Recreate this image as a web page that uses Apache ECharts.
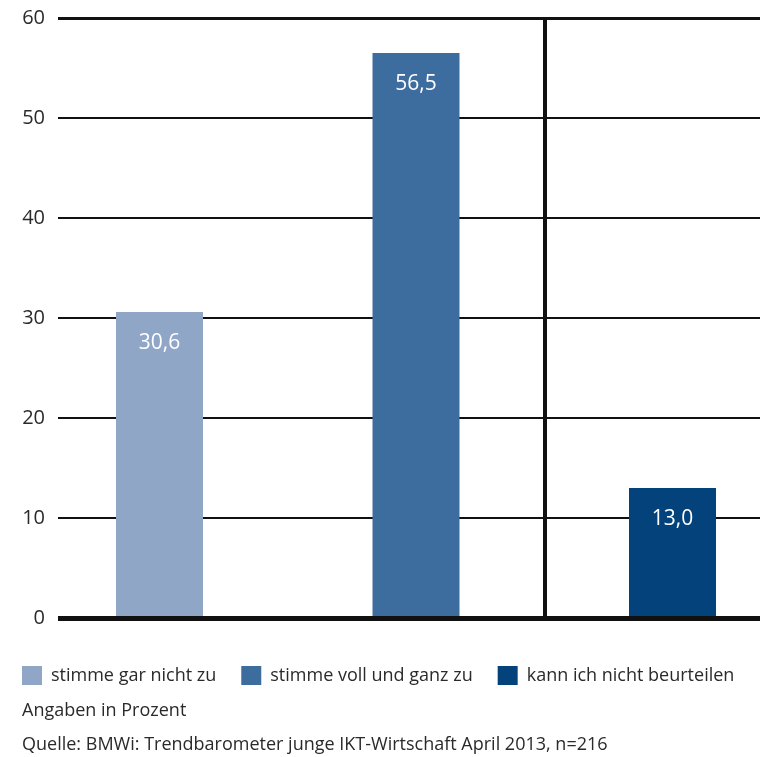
<!DOCTYPE html>
<html><head><meta charset="utf-8">
<script src="https://cdn.jsdelivr.net/npm/echarts@6/dist/echarts.min.js"></script>
<style>html,body{margin:0;padding:0;background:#fff}#c{width:760px;height:757px}</style>
</head><body><div id="c"></div>
<script>
const categories = ['stimme gar nicht zu', 'stimme voll und ganz zu', 'kann ich nicht beurteilen'];
const values = [30.6, 56.5, 13.0];
const colors = ['#8fa6c7', '#3d6c9e', '#03427a'];
const yTicks = [0, 10, 20, 30, 40, 50, 60];
const note = 'Angaben in Prozent';
const source = 'Quelle: BMWi: Trendbarometer junge IKT-Wirtschaft April 2013, n=216';

const FONT = '"Open Sans", "Noto Sans", sans-serif';
const TXT = '#2a2a2a';
const chart = echarts.init(document.getElementById('c'), null, {renderer: 'canvas'});

const series = categories.map((name, i) => ({
  name: name,
  type: 'bar',
  barWidth: 87,
  barGap: '-100%',
  data: [[i, values[i]]],
  itemStyle: {color: colors[i]},
  label: {
    show: true, position: 'insideTop', distance: 21,
    color: '#fff', fontFamily: FONT, fontSize: 21,
    formatter: p => p.value[1].toFixed(1).replace('.', ',')
  },
  z: 2
}));
series.push({
  type: 'line', data: [], silent: true,
  markLine: {
    symbol: 'none', silent: true, label: {show: false},
    data: [
      {yAxis: 60, lineStyle: {color: '#111', width: 3, type: 'solid'}},
      {xAxis: 1.5, lineStyle: {color: '#111', width: 4, type: 'solid'}}
    ]
  },
  z: 5
});

chart.setOption({
  animation: false,
  backgroundColor: '#fff',
  grid: {left: 58, right: 0, top: 18, bottom: 139},
  xAxis: {
    type: 'value', min: -0.3957, max: 2.3411,
    axisLine: {show: false}, axisTick: {show: false}, axisLabel: {show: false},
    splitLine: {show: false}
  },
  yAxis: {
    type: 'value', min: yTicks[0], max: yTicks[yTicks.length - 1], interval: 10,
    axisLine: {show: false}, axisTick: {show: false},
    axisLabel: {color: TXT, fontFamily: FONT, fontSize: 20, margin: 13},
    splitLine: {lineStyle: {color: '#111', width: 2}}
  },
  legend: {
    left: 22, top: 666, padding: 0, itemWidth: 20, itemHeight: 19, itemGap: 25,
    icon: 'rect', selectedMode: false,
    data: categories,
    textStyle: {color: TXT, fontFamily: FONT, fontSize: 18, padding: [0, 0, 0, 4]}
  },
  graphic: [
    {type: 'rect', shape: {x: 58, y: 616, width: 702, height: 5}, style: {fill: '#111'}, z: 100},
    {type: 'text', left: 22, top: 702, style: {text: note, fill: TXT, font: '18px ' + FONT}},
    {type: 'text', left: 22, top: 736, style: {text: source, fill: TXT, font: '18px ' + FONT}}
  ],
  series: series
});
</script></body></html>
